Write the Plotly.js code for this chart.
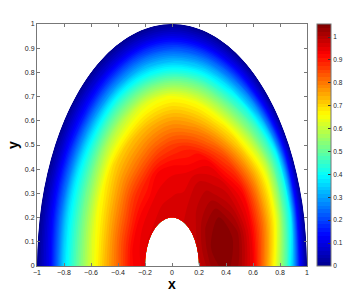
<!DOCTYPE html>
<html>
<head>
<meta charset="utf-8">
<script src="https://cdn.plot.ly/plotly-3.0.1.min.js"></script>
<style>body{margin:0;background:#fff}</style>
</head>
<body>
<div id="chart" style="width:346px;height:294px"></div>
<script>
// grid of the half ring: radius (carpet a) and angle in degrees (carpet b)
const radii = [0.2, 0.3, 0.4, 0.5, 0.6, 0.7, 0.8, 0.85, 0.9, 0.95, 1.0];
const angles = [0, 15, 30, 45, 60, 75, 90, 105, 120, 135, 150, 165, 180];

// field values, one list per angle (inner radius -> outer)
const u000 = [0.98, 1.03, 1.05, 1.02, 0.94, 0.77, 0.57, 0.47, 0.32, 0.13, 0];
const u015 = [0.99, 1.04, 1.055, 1.03, 0.94, 0.80, 0.63, 0.51, 0.40, 0.15, 0];
const u030 = [0.985, 1.03, 1.04, 0.99, 0.925, 0.78, 0.62, 0.51, 0.40, 0.18, 0];
const u045 = [0.98, 1.0, 1.0, 0.96, 0.86, 0.71, 0.53, 0.44, 0.30, 0.13, 0];
const u060 = [0.975, 0.98, 0.975, 0.93, 0.80, 0.66, 0.47, 0.37, 0.24, 0.11, 0];
const u075 = [0.97, 0.96, 0.94, 0.89, 0.77, 0.65, 0.45, 0.34, 0.22, 0.10, 0];
const u090 = [0.97, 0.955, 0.935, 0.86, 0.76, 0.65, 0.43, 0.32, 0.21, 0.10, 0];
const u105 = [0.97, 0.95, 0.925, 0.83, 0.74, 0.63, 0.42, 0.31, 0.20, 0.09, 0];
const u120 = [0.965, 0.94, 0.89, 0.80, 0.72, 0.59, 0.41, 0.29, 0.18, 0.08, 0];
const u135 = [0.96, 0.935, 0.87, 0.78, 0.70, 0.56, 0.38, 0.27, 0.16, 0.08, 0];
const u150 = [0.96, 0.93, 0.84, 0.75, 0.66, 0.52, 0.37, 0.26, 0.16, 0.07, 0];
const u165 = [0.955, 0.925, 0.83, 0.73, 0.63, 0.50, 0.36, 0.25, 0.15, 0.07, 0];
const u180 = [0.95, 0.92, 0.82, 0.73, 0.62, 0.50, 0.36, 0.24, 0.13, 0.065, 0];

const xTicks = [-1, -0.8, -0.6, -0.4, -0.2, 0, 0.2, 0.4, 0.6, 0.8, 1];
const yTicks = [0, 0.1, 0.2, 0.3, 0.4, 0.5, 0.6, 0.7, 0.8, 0.9, 1];
const cbTicks = [0, 0.1, 0.2, 0.3, 0.4, 0.5, 0.6, 0.7, 0.8, 0.9, 1];

const z = [u000, u015, u030, u045, u060, u075, u090, u105, u120, u135, u150, u165, u180];

// polar grid -> cartesian positions for the carpet
let cx = [], cy = [];
for (let j = 0; j < angles.length; j++) {
    let t = angles[j] * Math.PI / 180;
    cx.push(radii.map(r => r * Math.cos(t)));
    cy.push(radii.map(r => r * Math.sin(t)));
}

// matlab style jet
const jet = [
    [0, 'rgb(0,0,143)'],
    [0.125, 'rgb(0,0,255)'],
    [0.375, 'rgb(0,255,255)'],
    [0.625, 'rgb(255,255,0)'],
    [0.875, 'rgb(255,0,0)'],
    [1, 'rgb(128,0,0)']
];

const hidden = {
    showgrid: false, showline: false, startline: false, endline: false,
    showticklabels: 'none', minorgridcount: 0, gridwidth: 0
};

const traces = [
    {
        type: 'carpet', carpet: 'ring', a: radii, b: angles, x: cx, y: cy,
        aaxis: hidden, baxis: hidden, xaxis: 'x', yaxis: 'y'
    },
    {
        type: 'contourcarpet', carpet: 'ring', a: radii, b: angles, z: z,
        colorscale: jet, zmin: 0, zmax: 1.057,
        autocontour: false,
        contours: {start: 0, end: 1.057, size: 0.0165, coloring: 'fill', showlines: false},
        line: {width: 0, smoothing: 1},
        colorbar: {
            x: 0.912, xanchor: 'left', xpad: 0, y: 0, yanchor: 'bottom', ypad: 0, len: 1,
            thickness: 14, outlinecolor: '#777', outlinewidth: 1,
            tickvals: cbTicks, ticks: 'inside', ticklen: 3, tickcolor: '#333',
            tickfont: {family: 'Liberation Sans, Arial', size: 6.5, color: '#222'}
        }
    }
];

const axisFont = {family: 'Liberation Sans, Arial', size: 7, color: '#222'};

const layout = {
    width: 346, height: 294,
    margin: {l: 37, r: 2, t: 24, b: 28, autoexpand: false},
    paper_bgcolor: '#fff', plot_bgcolor: '#fff',
    showlegend: false,
    xaxis: {
        visible: true, range: [-1, 1], tickvals: xTicks, domain: [0, 0.8795],
        showgrid: false, zeroline: false, showline: true, mirror: 'ticks',
        linecolor: '#777', ticks: 'inside', ticklen: 3, tickcolor: '#777',
        tickfont: axisFont,
        title: {text: 'x', font: {family: 'Liberation Sans, Arial', size: 14, color: '#000', weight: 'bold'}, standoff: 2}
    },
    yaxis: {
        visible: true, range: [0, 1], tickvals: yTicks,
        showgrid: false, zeroline: false, showline: true, mirror: 'ticks',
        linecolor: '#777', ticks: 'inside', ticklen: 3, tickcolor: '#777',
        tickfont: axisFont,
        title: {text: 'y', font: {family: 'Liberation Sans, Arial', size: 14, color: '#000', weight: 'bold'}, standoff: 2}
    }
};

Plotly.newPlot('chart', traces, layout, {displayModeBar: false, staticPlot: true});
</script>
</body>
</html>
